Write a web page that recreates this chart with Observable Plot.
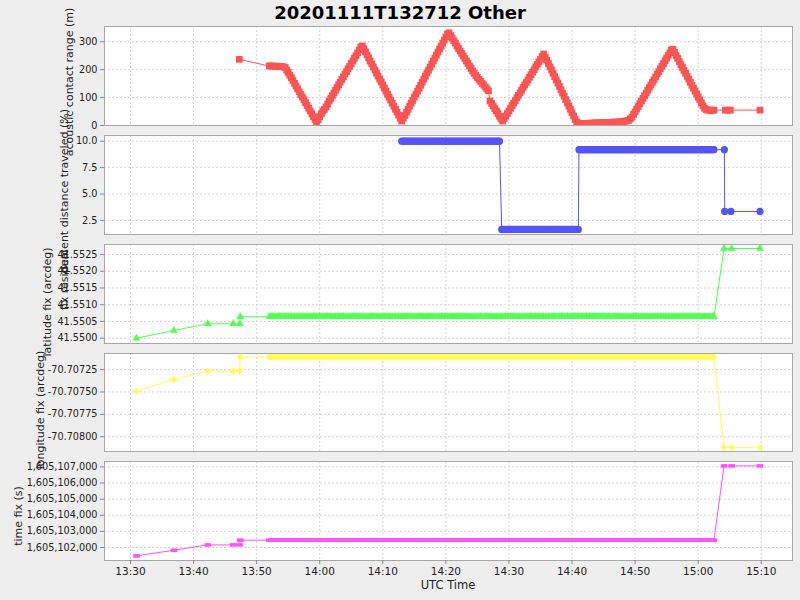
<!DOCTYPE html>
<html>
<head>
<meta charset="utf-8">
<script src="https://cdn.jsdelivr.net/npm/d3@7"></script>
<script src="https://cdn.jsdelivr.net/npm/@observablehq/plot@0.6"></script>
<style>
  html, body { margin: 0; padding: 0; background: #eeeeee; }
  #chart { position: relative; width: 800px; height: 600px; background: #eeeeee; overflow: hidden; font-family: "DejaVu Sans", sans-serif; }
  #chart svg { position: absolute; left: 0; overflow: visible; }
</style>
</head>
<body>
<div id="chart"></div>
<script>
// ---------- DATA (time = minutes after 2020-11-11 13:00 UTC) ----------
const titleText = "20201111T132712 Other";
const xLabel = "UTC Time";
const xTickMinutes = [30, 40, 50, 60, 70, 80, 90, 100, 110, 120, 130];
const xDomainMinutes = [25.88, 134.95];

// dense sampling times shared by range / latitude / longitude / time fix
const denseTime = [
  52.0,52.25,52.5,52.75,53.0,53.25,53.5,53.75,54.0,54.25,54.5,54.75,
  55.0,55.25,55.5,55.75,56.0,56.25,56.5,56.75,57.0,57.25,57.5,57.75,
  58.0,58.25,58.5,58.75,59.0,59.25,59.5,59.75,60.0,60.25,60.5,60.75,
  61.0,61.25,61.5,61.75,62.0,62.25,62.5,62.75,63.0,63.25,63.5,63.75,
  64.0,64.25,64.5,64.75,65.0,65.25,65.5,65.75,66.0,66.25,66.5,66.75,
  67.0,67.25,67.5,67.75,68.0,68.25,68.5,68.75,69.0,69.25,69.5,69.75,
  70.0,70.25,70.5,70.75,71.0,71.25,71.5,71.75,72.0,72.25,72.5,72.75,
  73.0,73.25,73.5,73.75,74.0,74.25,74.5,74.75,75.0,75.25,75.5,75.75,
  76.0,76.25,76.5,76.75,77.0,77.25,77.5,77.75,78.0,78.25,78.5,78.75,
  79.0,79.25,79.5,79.75,80.0,80.25,80.5,80.75,81.0,81.25,81.5,81.75,
  82.0,82.25,82.5,82.75,83.0,83.25,83.5,83.75,84.0,84.25,84.5,84.75,
  85.0,85.25,85.5,85.75,86.0,86.25,86.5,86.75,87.0,87.25,87.5,87.75,
  88.0,88.25,88.5,88.75,89.0,89.25,89.5,89.75,90.0,90.25,90.5,90.75,
  91.0,91.25,91.5,91.75,92.0,92.25,92.5,92.75,93.0,93.25,93.5,93.75,
  94.0,94.25,94.5,94.75,95.0,95.25,95.5,95.75,96.0,96.25,96.5,96.75,
  97.0,97.25,97.5,97.75,98.0,98.25,98.5,98.75,99.0,99.25,99.5,99.75,
  100.0,100.25,100.5,100.75,101.0,101.25,101.5,101.75,102.0,102.25,102.5,102.75,
  103.0,103.25,103.5,103.75,104.0,104.25,104.5,104.75,105.0,105.25,105.5,105.75,
  106.0,106.25,106.5,106.75,107.0,107.25,107.5,107.75,108.0,108.25,108.5,108.75,
  109.0,109.25,109.5,109.75,110.0,110.25,110.5,110.75,111.0,111.25,111.5,111.75,
  112.0,112.25,112.5,112.75,113.0,113.25,113.5,113.75,114.0,114.25,114.5,114.75,
  115.0,115.25,115.5,115.75,116.0,116.25,116.5,116.75,117.0,117.25,117.5,117.75,
  118.0,118.25,118.5,118.75,119.0,119.25,119.5,119.75,120.0,120.25,120.5,120.75,
  121.0,121.25,121.5,121.75,122.0,122.25,122.5
];

// acoustic contact range (m)
const rangeEarlyTime = [47.25];
const rangeEarlyValue = [237];
const rangeDense = [
  213,213,213,212,212,212,212,211,211,210,208,199,
  190,180,171,161,151,141,131,121,111,102,92,82,
  72,62,52,42,32,22,12,21,31,42,52,58,
  66,77,88,97,107,116,126,136,146,155,165,174,
  184,193,203,212,222,231,241,250,260,270,281,285,
  275,264,253,242,231,221,210,199,188,177,166,156,
  145,134,123,112,101,91,80,69,58,48,37,26,
  16,26,36,47,58,69,80,90,101,112,123,133,
  144,155,166,177,188,198,209,220,231,241,252,263,
  274,284,295,306,317,327,332,322,313,304,295,285,
  276,267,258,249,240,231,222,213,204,195,187,179,
  172,165,158,151,145,138,131,124,88,79,70,61,
  52,43,33,24,16,25,34,43,52,62,71,80,
  89,99,108,117,126,136,145,154,163,173,182,191,
  200,210,219,228,237,247,256,245,234,222,210,199,
  187,175,163,152,140,128,116,105,93,81,69,58,
  46,34,22,12,8,7,7,7,7,7,8,8,
  8,8,9,9,9,9,10,10,10,10,11,11,
  11,11,12,12,12,12,13,13,14,15,16,17,
  19,24,30,40,49,59,68,78,88,97,107,116,
  126,136,145,155,164,174,184,193,203,212,222,232,
  241,251,260,270,273,262,250,240,229,218,208,197,
  187,176,166,155,144,134,123,113,102,92,81,71,
  62,57,55,55,54,55,55
];
const rangeTailTime = [124.3, 124.7, 125.1, 129.8];
const rangeTailValue = [55, 55, 55, 55];

// percent distance traveled (%)
const pctTime = [
  73.0,73.25,73.5,73.75,74.0,74.25,74.5,74.75,75.0,75.25,75.5,75.75,
  76.0,76.25,76.5,76.75,77.0,77.25,77.5,77.75,78.0,78.25,78.5,78.75,
  79.0,79.25,79.5,79.75,80.0,80.25,80.5,80.75,81.0,81.25,81.5,81.75,
  82.0,82.25,82.5,82.75,83.0,83.25,83.5,83.75,84.0,84.25,84.5,84.75,
  85.0,85.25,85.5,85.75,86.0,86.25,86.5,86.75,87.0,87.25,87.5,87.75,
  88.0,88.25,88.5,
  88.85,89.0,89.25,89.5,89.75,90.0,90.25,90.5,90.75,91.0,91.25,91.5,91.75,
  92.0,92.25,92.5,92.75,93.0,93.25,93.5,93.75,94.0,94.25,94.5,94.75,
  95.0,95.25,95.5,95.75,96.0,96.25,96.5,96.75,97.0,97.25,97.5,97.75,
  98.0,98.25,98.5,98.75,99.0,99.25,99.5,99.75,100.0,100.25,100.5,100.75,
  101.0,
  101.1,101.25,101.5,101.75,102.0,102.25,102.5,102.75,103.0,103.25,103.5,103.75,
  104.0,104.25,104.5,104.75,105.0,105.25,105.5,105.75,106.0,106.25,106.5,106.75,
  107.0,107.25,107.5,107.75,108.0,108.25,108.5,108.75,109.0,109.25,109.5,109.75,
  110.0,110.25,110.5,110.75,111.0,111.25,111.5,111.75,112.0,112.25,112.5,112.75,
  113.0,113.25,113.5,113.75,114.0,114.25,114.5,114.75,115.0,115.25,115.5,115.75,
  116.0,116.25,116.5,116.75,117.0,117.25,117.5,117.75,118.0,118.25,118.5,118.75,
  119.0,119.25,119.5,119.75,120.0,120.25,120.5,120.75,121.0,121.25,121.5,121.75,
  122.0,122.25,122.5,
  124.15,
  124.2,125.2,129.8
];
const pctValue = [
  10,10,10,10,10,10,10,10,10,10,10,10,
  10,10,10,10,10,10,10,10,10,10,10,10,
  10,10,10,10,10,10,10,10,10,10,10,10,
  10,10,10,10,10,10,10,10,10,10,10,10,
  10,10,10,10,10,10,10,10,10,10,10,10,
  10,10,10,
  1.65,1.65,1.65,1.65,1.65,1.65,1.65,1.65,1.65,1.65,1.65,1.65,1.65,
  1.65,1.65,1.65,1.65,1.65,1.65,1.65,1.65,1.65,1.65,1.65,1.65,
  1.65,1.65,1.65,1.65,1.65,1.65,1.65,1.65,1.65,1.65,1.65,1.65,
  1.65,1.65,1.65,1.65,1.65,1.65,1.65,1.65,1.65,1.65,1.65,1.65,
  1.65,
  9.2,9.2,9.2,9.2,9.2,9.2,9.2,9.2,9.2,9.2,9.2,9.2,
  9.2,9.2,9.2,9.2,9.2,9.2,9.2,9.2,9.2,9.2,9.2,9.2,
  9.2,9.2,9.2,9.2,9.2,9.2,9.2,9.2,9.2,9.2,9.2,9.2,
  9.2,9.2,9.2,9.2,9.2,9.2,9.2,9.2,9.2,9.2,9.2,9.2,
  9.2,9.2,9.2,9.2,9.2,9.2,9.2,9.2,9.2,9.2,9.2,9.2,
  9.2,9.2,9.2,9.2,9.2,9.2,9.2,9.2,9.2,9.2,9.2,9.2,
  9.2,9.2,9.2,9.2,9.2,9.2,9.2,9.2,9.2,9.2,9.2,9.2,
  9.2,9.2,9.2,
  9.2,
  3.35,3.35,3.35
];

// fixes: early samples, dense samples (denseTime), tail samples
const fixEarlyTime = [30.95, 36.9, 42.25, 46.3, 47.3, 47.4];
const fixTailTime = [124.1, 125.3, 129.8];

const latEarly = [41.55000, 41.55023, 41.55043, 41.55043, 41.55043, 41.55064];
const latDense = [
  41.55064,41.55065,41.55064,41.55064,41.55063,41.55064,41.55065,41.55064,41.55064,41.55064,41.55064,41.55064,
  41.55064,41.55064,41.55065,41.55064,41.55064,41.55063,41.55064,41.55064,41.55064,41.55065,41.55064,41.55064,
  41.55064,41.55063,41.55064,41.55064,41.55065,41.55064,41.55064,41.55064,41.55064,41.55064,41.55063,41.55064,
  41.55065,41.55064,41.55064,41.55064,41.55064,41.55063,41.55064,41.55064,41.55064,41.55064,41.55064,41.55065,
  41.55064,41.55064,41.55063,41.55064,41.55064,41.55064,41.55065,41.55064,41.55064,41.55064,41.55064,41.55064,
  41.55064,41.55064,41.55064,41.55063,41.55064,41.55065,41.55064,41.55064,41.55064,41.55064,41.55064,41.55063,
  41.55065,41.55064,41.55064,41.55064,41.55064,41.55064,41.55063,41.55064,41.55064,41.55064,41.55065,41.55064,
  41.55064,41.55064,41.55064,41.55065,41.55064,41.55064,41.55064,41.55064,41.55063,41.55064,41.55064,41.55064,
  41.55064,41.55064,41.55064,41.55063,41.55065,41.55064,41.55065,41.55064,41.55064,41.55064,41.55064,41.55064,
  41.55064,41.55065,41.55064,41.55064,41.55064,41.55064,41.55064,41.55065,41.55064,41.55064,41.55063,41.55064,
  41.55064,41.55064,41.55064,41.55064,41.55065,41.55064,41.55064,41.55064,41.55063,41.55064,41.55064,41.55064,
  41.55064,41.55064,41.55064,41.55064,41.55064,41.55064,41.55065,41.55064,41.55064,41.55064,41.55064,41.55063,
  41.55064,41.55063,41.55064,41.55064,41.55064,41.55064,41.55064,41.55064,41.55064,41.55065,41.55064,41.55064,
  41.55064,41.55064,41.55064,41.55064,41.55063,41.55064,41.55064,41.55064,41.55064,41.55064,41.55065,41.55064,
  41.55064,41.55065,41.55064,41.55064,41.55064,41.55064,41.55064,41.55063,41.55064,41.55064,41.55064,41.55064,
  41.55065,41.55064,41.55064,41.55064,41.55064,41.55065,41.55064,41.55064,41.55064,41.55065,41.55064,41.55064,
  41.55064,41.55065,41.55065,41.55064,41.55065,41.55064,41.55065,41.55065,41.55064,41.55065,41.55064,41.55065,
  41.55065,41.55064,41.55065,41.55065,41.55064,41.55065,41.55064,41.55064,41.55065,41.55064,41.55064,41.55064,
  41.55064,41.55064,41.55064,41.55065,41.55064,41.55064,41.55064,41.55064,41.55064,41.55063,41.55064,41.55064,
  41.55064,41.55064,41.55064,41.55064,41.55065,41.55064,41.55064,41.55064,41.55064,41.55064,41.55064,41.55064,
  41.55064,41.55063,41.55064,41.55064,41.55064,41.55064,41.55064,41.55064,41.55064,41.55065,41.55064,41.55064,
  41.55064,41.55064,41.55064,41.55064,41.55064,41.55064,41.55063,41.55064,41.55064,41.55064,41.55064,41.55064,
  41.55064,41.55064,41.55064,41.55064,41.55064,41.55064,41.55064,41.55064,41.55064,41.55064,41.55063,41.55064,
  41.55064,41.55064,41.55064,41.55064,41.55063,41.55064,41.55064
];
const latTail = [41.55268, 41.55268, 41.55268];

const lonEarly = [-70.70749, -70.70736, -70.707266, -70.707266, -70.707266, -70.70711];
const lonDense = [
  -70.70711,-70.70711,-70.70711,-70.70711,-70.70711,-70.70711,-70.70711,-70.70711,-70.70711,-70.70711,-70.70711,-70.70711,
  -70.70711,-70.70711,-70.70711,-70.70711,-70.70711,-70.70711,-70.70711,-70.70711,-70.70711,-70.70711,-70.70711,-70.70711,
  -70.70711,-70.70711,-70.70711,-70.70711,-70.70711,-70.70711,-70.70711,-70.70711,-70.70711,-70.70711,-70.70711,-70.70711,
  -70.70711,-70.70711,-70.70711,-70.70711,-70.70711,-70.70711,-70.70711,-70.70711,-70.70711,-70.70711,-70.70711,-70.70711,
  -70.70711,-70.70711,-70.70711,-70.70711,-70.70711,-70.70711,-70.70711,-70.70711,-70.70711,-70.70711,-70.70711,-70.70711,
  -70.70711,-70.70711,-70.70711,-70.70711,-70.70711,-70.70711,-70.70711,-70.70711,-70.70711,-70.70711,-70.70711,-70.70711,
  -70.70711,-70.70711,-70.70711,-70.70711,-70.70711,-70.70711,-70.70711,-70.70711,-70.70711,-70.70711,-70.70711,-70.70711,
  -70.70711,-70.70711,-70.70711,-70.70711,-70.70711,-70.70711,-70.70711,-70.70711,-70.70711,-70.70711,-70.70711,-70.70711,
  -70.70711,-70.70711,-70.70711,-70.70711,-70.70711,-70.70711,-70.70711,-70.70711,-70.70711,-70.70711,-70.70711,-70.70711,
  -70.70711,-70.70711,-70.70711,-70.70711,-70.70711,-70.70711,-70.70711,-70.70711,-70.70711,-70.70711,-70.70711,-70.70711,
  -70.70711,-70.70711,-70.70711,-70.70711,-70.70711,-70.70711,-70.70711,-70.70711,-70.70711,-70.70711,-70.70711,-70.70711,
  -70.70711,-70.70711,-70.70711,-70.70711,-70.70711,-70.70711,-70.70711,-70.70711,-70.70711,-70.70711,-70.70711,-70.70711,
  -70.70711,-70.70711,-70.70711,-70.70711,-70.70711,-70.70711,-70.70711,-70.70711,-70.70711,-70.70711,-70.70711,-70.70711,
  -70.70711,-70.70711,-70.70711,-70.70711,-70.70711,-70.70711,-70.70711,-70.70711,-70.70711,-70.70711,-70.70711,-70.70711,
  -70.70711,-70.70711,-70.70711,-70.70711,-70.70711,-70.70711,-70.70711,-70.70711,-70.70711,-70.70711,-70.70711,-70.70711,
  -70.70711,-70.70711,-70.70711,-70.70711,-70.70711,-70.70711,-70.70711,-70.70711,-70.70711,-70.70711,-70.70711,-70.70711,
  -70.70711,-70.70711,-70.70711,-70.70711,-70.70711,-70.70711,-70.70711,-70.70711,-70.70711,-70.70711,-70.70711,-70.70711,
  -70.70711,-70.70711,-70.70711,-70.70711,-70.70711,-70.70711,-70.70711,-70.70711,-70.70711,-70.70711,-70.70711,-70.70711,
  -70.70711,-70.70711,-70.70711,-70.70711,-70.70711,-70.70711,-70.70711,-70.70711,-70.70711,-70.70711,-70.70711,-70.70711,
  -70.70711,-70.70711,-70.70711,-70.70711,-70.70711,-70.70711,-70.70711,-70.70711,-70.70711,-70.70711,-70.70711,-70.70711,
  -70.70711,-70.70711,-70.70711,-70.70711,-70.70711,-70.70711,-70.70711,-70.70711,-70.70711,-70.70711,-70.70711,-70.70711,
  -70.70711,-70.70711,-70.70711,-70.70711,-70.70711,-70.70711,-70.70711,-70.70711,-70.70711,-70.70711,-70.70711,-70.70711,
  -70.70711,-70.70711,-70.70711,-70.70711,-70.70711,-70.70711,-70.70711,-70.70711,-70.70711,-70.70711,-70.70711,-70.70711,
  -70.70711,-70.70711,-70.70711,-70.70711,-70.70711,-70.70711,-70.70711
];
const lonTail = [-70.70812, -70.70812, -70.70812];

const tfixEarly = [1605101480, 1605101833, 1605102161, 1605102161, 1605102161, 1605102453];
const tfixDense = [
  1605102453,1605102453,1605102453,1605102453,1605102453,1605102453,1605102453,1605102453,1605102453,1605102453,1605102453,1605102453,
  1605102453,1605102453,1605102453,1605102453,1605102453,1605102453,1605102453,1605102453,1605102453,1605102453,1605102453,1605102453,
  1605102453,1605102453,1605102453,1605102453,1605102453,1605102453,1605102453,1605102453,1605102453,1605102453,1605102453,1605102453,
  1605102453,1605102453,1605102453,1605102453,1605102453,1605102453,1605102453,1605102453,1605102453,1605102453,1605102453,1605102453,
  1605102453,1605102453,1605102453,1605102453,1605102453,1605102453,1605102453,1605102453,1605102453,1605102453,1605102453,1605102453,
  1605102453,1605102453,1605102453,1605102453,1605102453,1605102453,1605102453,1605102453,1605102453,1605102453,1605102453,1605102453,
  1605102453,1605102453,1605102453,1605102453,1605102453,1605102453,1605102453,1605102453,1605102453,1605102453,1605102453,1605102453,
  1605102453,1605102453,1605102453,1605102453,1605102453,1605102453,1605102453,1605102453,1605102453,1605102453,1605102453,1605102453,
  1605102453,1605102453,1605102453,1605102453,1605102453,1605102453,1605102453,1605102453,1605102453,1605102453,1605102453,1605102453,
  1605102453,1605102453,1605102453,1605102453,1605102453,1605102453,1605102453,1605102453,1605102453,1605102453,1605102453,1605102453,
  1605102453,1605102453,1605102453,1605102453,1605102453,1605102453,1605102453,1605102453,1605102453,1605102453,1605102453,1605102453,
  1605102453,1605102453,1605102453,1605102453,1605102453,1605102453,1605102453,1605102453,1605102453,1605102453,1605102453,1605102453,
  1605102453,1605102453,1605102453,1605102453,1605102453,1605102453,1605102453,1605102453,1605102453,1605102453,1605102453,1605102453,
  1605102453,1605102453,1605102453,1605102453,1605102453,1605102453,1605102453,1605102453,1605102453,1605102453,1605102453,1605102453,
  1605102453,1605102453,1605102453,1605102453,1605102453,1605102453,1605102453,1605102453,1605102453,1605102453,1605102453,1605102453,
  1605102453,1605102453,1605102453,1605102453,1605102453,1605102453,1605102453,1605102453,1605102453,1605102453,1605102453,1605102453,
  1605102453,1605102453,1605102453,1605102453,1605102453,1605102453,1605102453,1605102453,1605102453,1605102453,1605102453,1605102453,
  1605102453,1605102453,1605102453,1605102453,1605102453,1605102453,1605102453,1605102453,1605102453,1605102453,1605102453,1605102453,
  1605102453,1605102453,1605102453,1605102453,1605102453,1605102453,1605102453,1605102453,1605102453,1605102453,1605102453,1605102453,
  1605102453,1605102453,1605102453,1605102453,1605102453,1605102453,1605102453,1605102453,1605102453,1605102453,1605102453,1605102453,
  1605102453,1605102453,1605102453,1605102453,1605102453,1605102453,1605102453,1605102453,1605102453,1605102453,1605102453,1605102453,
  1605102453,1605102453,1605102453,1605102453,1605102453,1605102453,1605102453,1605102453,1605102453,1605102453,1605102453,1605102453,
  1605102453,1605102453,1605102453,1605102453,1605102453,1605102453,1605102453,1605102453,1605102453,1605102453,1605102453,1605102453,
  1605102453,1605102453,1605102453,1605102453,1605102453,1605102453,1605102453
];
const tfixTail = [1605107062, 1605107062, 1605107062];

// axis labels (as they appear, overlapping, in the reference) and ticks
const yLabels = [
  "acoustic contact range (m)",
  "percent distance traveled (%)",
  "latitude fix (arcdeg)",
  "longitude fix (arcdeg)",
  "time fix (s)"
];
const extraLabel = "fix residual";
const rangeTicks = [0, 100, 200, 300];
const pctTicks = [2.5, 5.0, 7.5, 10.0];
const latTicks = [41.5500, 41.5505, 41.5510, 41.5515, 41.5520, 41.5525];
const lonTicks = [-70.70800, -70.70775, -70.70750, -70.70725];
const tfixTicks = [1605102000, 1605103000, 1605104000, 1605105000, 1605106000, 1605107000];

// ---------- BUILD ----------
const BASE = Date.UTC(2020, 10, 11, 13, 0, 0);
const toDate = m => new Date(BASE + m * 60000);
const rowsFrom = (times, values) => times.map((t, i) => ({t: toDate(t), v: values[i]}));
const xTicks = xTickMinutes.map(toDate);
const xDomain = xDomainMinutes.map(toDate);

const rangeRows = [
  ...rowsFrom(rangeEarlyTime, rangeEarlyValue),
  ...rowsFrom(denseTime, rangeDense),
  ...rowsFrom(rangeTailTime, rangeTailValue)
];
const pctRows = rowsFrom(pctTime, pctValue);
const fixRows = (early, dense, tail) => [
  ...rowsFrom(fixEarlyTime, early),
  ...rowsFrom(denseTime, dense),
  ...rowsFrom(fixTailTime, tail)
];

const hRect = { draw(ctx) { ctx.rect(-3.3, -1.8, 6.6, 3.6); } };

const panels = [
  {top: 26,  h: 99, domain: [0, 354.6], ticks: rangeTicks, fmt: d => String(d), rows: rangeRows,
   color: "#ff5555", symbol: "square", r: 3.8, label: yLabels[0], lx: 69, ly: 82},
  {top: 135, h: 99, domain: [1.17, 10.54], ticks: pctTicks, fmt: d => d.toFixed(1), rows: pctRows,
   color: "#5555ff", symbol: "circle", r: 3.6, label: yLabels[1], lx: 64, ly: 191},
  {top: 244, h: 99, domain: [41.54984, 41.5528], ticks: latTicks, fmt: d => d.toFixed(4),
   rows: fixRows(latEarly, latDense, latTail), color: "#55ff55", symbol: "triangle", r: 2.9, label: yLabels[2], lx: 47, ly: 302},
  {top: 353, h: 98, domain: [-70.708165, -70.70707], ticks: lonTicks, fmt: d => d.toFixed(5),
   rows: fixRows(lonEarly, lonDense, lonTail), color: "#ffff55", symbol: "diamond2", r: 3.1, label: yLabels[3], lx: 40, ly: 410},
  {top: 461, h: 99, domain: [1605101194, 1605107335], ticks: tfixTicks, fmt: d3.format(","),
   rows: fixRows(tfixEarly, tfixDense, tfixTail), color: "#ff55ff", symbol: hRect, r: 3, label: yLabels[4], lx: 18, ly: 516, bottom: true}
];

const chart = document.getElementById("chart");
const gridStyle = {stroke: "#d4d4d4", strokeOpacity: 1, strokeDasharray: "2,2", strokeWidth: 1};

for (const p of panels) {
  const mb = p.bottom ? 40 : 0;
  const svg = Plot.plot({
    width: 800,
    height: p.h + mb,
    marginLeft: 104, marginRight: 8, marginTop: 0, marginBottom: mb,
    style: {background: "transparent", overflow: "visible", color: "#222", fontFamily: "DejaVu Sans, sans-serif"},
    x: {type: "utc", domain: xDomain, axis: null},
    y: {domain: p.domain, axis: null},
    marks: [
      Plot.frame({fill: "white", stroke: null}),
      Plot.gridX(xTicks, gridStyle),
      Plot.gridY(p.ticks, gridStyle),
      Plot.line(p.rows, {x: "t", y: "v", stroke: p.color, strokeWidth: 1, clip: true}),
      Plot.dot(p.rows, {x: "t", y: "v", fill: p.color, symbol: p.symbol, r: p.r, clip: true}),
      Plot.frame({stroke: "#a8a8a8"}),
      Plot.axisY(p.ticks, {tickFormat: p.fmt, tickSize: 4, tickPadding: 3, fontSize: 9.7, label: null, stroke: "#888"}),
      p.bottom ? Plot.axisX(xTicks, {tickFormat: d3.utcFormat("%H:%M"), tickSize: 4, tickPadding: 3, fontSize: 10.5, label: null, stroke: "#888"}) : null
    ]
  });
  svg.style.top = p.top + "px";
  chart.appendChild(svg);
}

// overlay: title and axis labels
const ov = d3.select(chart).append("svg")
  .attr("width", 800).attr("height", 600)
  .style("top", "0px").style("pointer-events", "none");
ov.append("text").attr("x", 400).attr("y", 19).attr("text-anchor", "middle")
  .style("font", "bold 18px 'DejaVu Sans', sans-serif").attr("fill", "#000").text(titleText);
ov.append("text").attr("x", 448).attr("y", 589).attr("text-anchor", "middle")
  .style("font", "11.5px 'DejaVu Sans', sans-serif").attr("fill", "#222").text(xLabel);
const labelFont = "11px 'DejaVu Sans', sans-serif";
for (const p of panels) {
  ov.append("text")
    .attr("transform", `translate(${p.lx},${p.ly}) rotate(-90)`)
    .attr("text-anchor", "middle").attr("dy", "0.35em")
    .style("font", labelFont).attr("fill", "#222")
    .text(p.label);
}
ov.append("text")
  .attr("transform", `translate(64,280) rotate(-90)`)
  .attr("text-anchor", "middle").attr("dy", "0.35em")
  .style("font", labelFont).attr("fill", "#222")
  .text(extraLabel);
</script>
</body>
</html>
